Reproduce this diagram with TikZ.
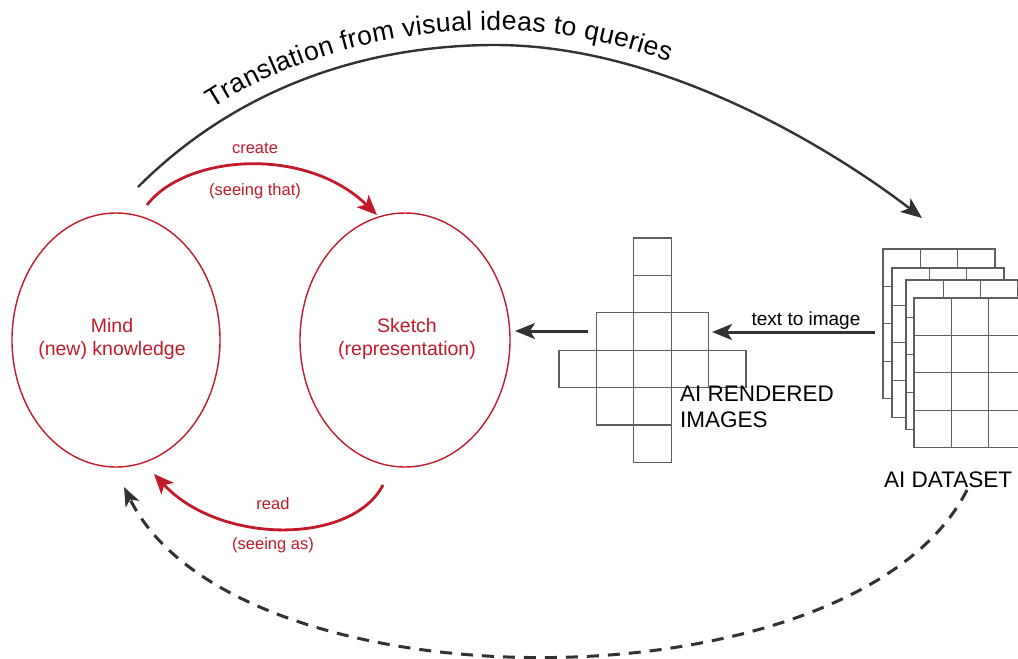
\documentclass[tikz,border=0pt]{standalone}
\usepackage{fontspec}
\setmainfont{Liberation Sans}
\usetikzlibrary{shapes.geometric,arrows.meta,decorations.text}
\definecolor{myred}{RGB}{193,26,42}
\definecolor{dk}{RGB}{50,50,50}
\definecolor{gridc}{RGB}{95,95,95}
\newcommand\fMind{\fontsize{19.5}{23}\selectfont}
\newcommand\fSmall{\fontsize{16.5}{20}\selectfont}
\newcommand\fBig{\fontsize{22.5}{26}\selectfont}
\newcommand\fMid{\fontsize{19}{22}\selectfont}
\newcommand\fTop{\fontsize{26.5}{29}\selectfont}
\begin{document}
\begin{tikzpicture}[x=1pt,y=-1pt,
  oval/.style={ellipse, draw=myred, line width=1.4pt, inner sep=0pt},
  redtxt/.style={text=myred, align=center, inner sep=0pt},
  redarrow/.style={draw=myred, line width=2.8pt, -{Stealth[length=20pt,width=17pt,inset=5pt]}},
  darc/.style={draw=dk, line width=2.4pt, -{Stealth[length=21pt,width=17pt,inset=5pt]}},
  darrow/.style={draw=dk, line width=3pt, -{Stealth[length=20pt,width=16pt,inset=5pt]}},
  dashedarrow/.style={draw=dk, line width=3pt, dash pattern=on 12pt off 9pt, -{Stealth[length=19pt,width=15pt,inset=5pt]}},
  gridline/.style={draw=gridc, line width=1.1pt},
  plain/.style={inner sep=0pt, text=black}]
\clip (0,0) rectangle (1018,659);
\fill[white] (0,0) rectangle (1018,659);

% ellipses
\node[oval, minimum width=208pt, minimum height=254pt] (mind) at (116,340) {};
\node[oval, minimum width=210pt, minimum height=254pt] (sketch) at (405,340) {};
\node[redtxt, anchor=base] (mindtxt) at (112,332) {\fMind Mind};
\node[redtxt, anchor=base] (mindtxt2) at (112,355) {\fMind (new) knowledge};
\node[redtxt, anchor=base] (sketchtxt) at (407,332) {\fMind Sketch};
\node[redtxt, anchor=base] (sketchtxt2) at (407,355) {\fMind (representation)};

% create / read arrows
\coordinate (cS) at (147,205);
\coordinate (cE) at (377,215);
\draw[redarrow] (cS) .. controls (185,155) and (305,145) .. (cE);
\node[redtxt, anchor=base] (create) at (255,153) {\fSmall create};
\node[redtxt, anchor=base] (seethat) at (255,195) {\fSmall (seeing that)};

\coordinate (rS) at (383,485);
\coordinate (rE) at (154,474);
\draw[redarrow] (rS) .. controls (352,545) and (220,545) .. (rE);
\node[redtxt, anchor=base] (read) at (273,509) {\fSmall read};
\node[redtxt, anchor=base] (seeas) at (273,549) {\fSmall (seeing as)};

% top arc with text
\coordinate (tS) at (138,187);
\coordinate (tP) at (495,45);
\coordinate (tE) at (922,218);
\draw[darc] (tS) .. controls (240,85) and (370,45) .. (tP) .. controls (680,45) and (860,170) .. (tE);
\path[decorate, decoration={text along path, raise=15pt,
   text align={left indent=106pt},
   text={|\fTop|Translation from visual ideas to queries}}]
   (tS) .. controls (240,85) and (370,45) .. (tP) .. controls (680,45) and (860,170) .. (tE);

% dashed return arrow
\coordinate (dS) at (967,490);
\coordinate (dE) at (124,487);
\draw[dashedarrow] (dS) .. controls (855,712) and (235,712) .. (dE);

% AI rendered images grid
\foreach \c/\r in {2/0,2/1,1/2,2/2,3/2,0/3,1/3,2/3,3/3,4/3,1/4,2/4,2/5}
  \draw[gridline] (559+\c*37.4,238+\r*37.4) rectangle ++(37.4,37.4);
\node[plain, anchor=base west, align=left, font=\fBig] (airend) at (680,427) {AI RENDERED\\IMAGES};

% dataset stack
\foreach \sx/\sy in {883/249, 892/268, 906/280, 914/298} {
  \draw[gridline, fill=white] (\sx,\sy) rectangle ++(112,149.6);
  \foreach \i in {1,2} \draw[gridline] (\sx+\i*37.3,\sy) -- ++(0,149.6);
  \foreach \j in {1,2,3} \draw[gridline] (\sx,\sy+\j*37.4) -- ++(112,0);
}
\node[plain, anchor=base west, font=\fBig] (aidata) at (884,487) {AI DATASET};

% straight arrows
\coordinate (tiS) at (875,332);
\coordinate (tiE) at (712,332);
\draw[darrow] (tiS) -- (tiE);
\node[plain, anchor=base, font=\fMid] (t2i) at (806,325) {text to image};
\coordinate (giS) at (588,331);
\coordinate (giE) at (515,331);
\draw[darrow] (giS) -- (giE);
\end{tikzpicture}
\end{document}
